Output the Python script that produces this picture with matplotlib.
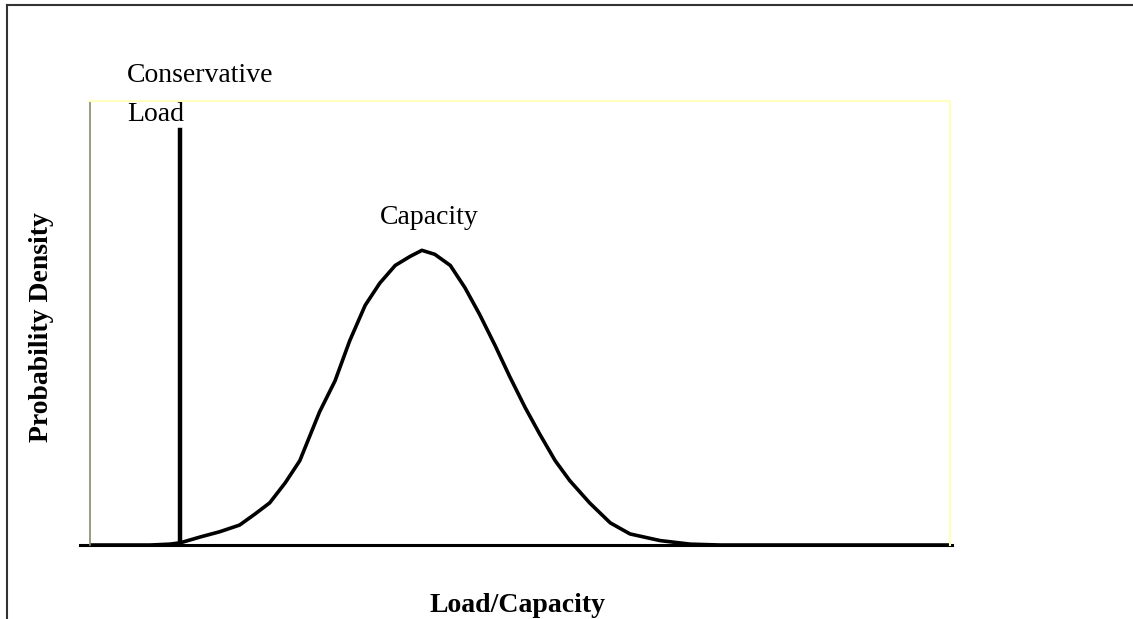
import matplotlib.pyplot as plt
from matplotlib.lines import Line2D

# capacity curve (x: 0-100, y: density 0-1)
cap_x = [0, 7.0, 9.3, 10.5, 12.8, 15.1, 17.4, 19.2, 20.9, 22.7, 24.4, 26.7, 28.5,
         30.2, 32.0, 33.7, 35.5, 37.2, 38.6, 40.1, 41.9, 43.6, 45.3, 47.1, 48.8,
         50.6, 52.3, 54.1, 55.8, 58.1, 60.5, 62.8, 66.3, 69.8, 73.3, 100]
cap_y = [0, 0, 0.002, 0.005, 0.018, 0.03, 0.045, 0.07, 0.095, 0.14, 0.19, 0.30, 0.37,
         0.46, 0.54, 0.59, 0.63, 0.65, 0.664, 0.655, 0.63, 0.58, 0.52, 0.45, 0.38,
         0.31, 0.25, 0.19, 0.145, 0.095, 0.05, 0.025, 0.01, 0.002, 0, 0]
load_x = 10.5
load_top = 0.935

plt.rcParams['font.family'] = ['Liberation Serif', 'DejaVu Serif']

fig = plt.figure(figsize=(11.33, 6.19), dpi=100)
ax = fig.add_axes([0.0794, 0.1195, 0.759, 0.717])

ax.plot(cap_x, cap_y, color='black', linewidth=2.6)
ax.plot([load_x, load_x], [0, load_top], color='black', linewidth=3.2)

ax.set_xlim(0, 100)
ax.set_ylim(0, 1)
ax.set_xticks([])
ax.set_yticks([])

ax.spines['left'].set_color('#8a8a6a')
ax.spines['left'].set_linewidth(1.2)
ax.spines['top'].set_color('#ffffc0')
ax.spines['right'].set_color('#ffffc0')
ax.spines['top'].set_linewidth(1.5)
ax.spines['right'].set_linewidth(1.5)
ax.spines['bottom'].set_visible(False)
ax.plot([-1.2, 100.3], [0, 0], color='black', linewidth=2.2, clip_on=False)

ax.text(4.3, 1.059, 'Conservative', fontsize=20, ha='left', va='center')
ax.text(4.3, 0.971, 'Load', fontsize=20, ha='left', va='center')
ax.text(39.5, 0.739, 'Capacity', fontsize=20, ha='center', va='center')

fig.text(518 / 1133, 1 - 605 / 619, 'Load/Capacity', fontsize=20, fontweight='bold',
         ha='center', va='center')
fig.text(42 / 1133, 1 - 327 / 619, 'Probability Density', fontsize=20, fontweight='bold',
         rotation=90, ha='center', va='center')

# outer frame: top and left only
fig.add_artist(Line2D([7 / 1133, 1.0], [1 - 5 / 619, 1 - 5 / 619], transform=fig.transFigure,
                      color='#333333', linewidth=1.5))
fig.add_artist(Line2D([7 / 1133, 7 / 1133], [0, 1 - 5 / 619], transform=fig.transFigure,
                      color='#333333', linewidth=1.5))

fig.savefig('out.png', dpi=100)
